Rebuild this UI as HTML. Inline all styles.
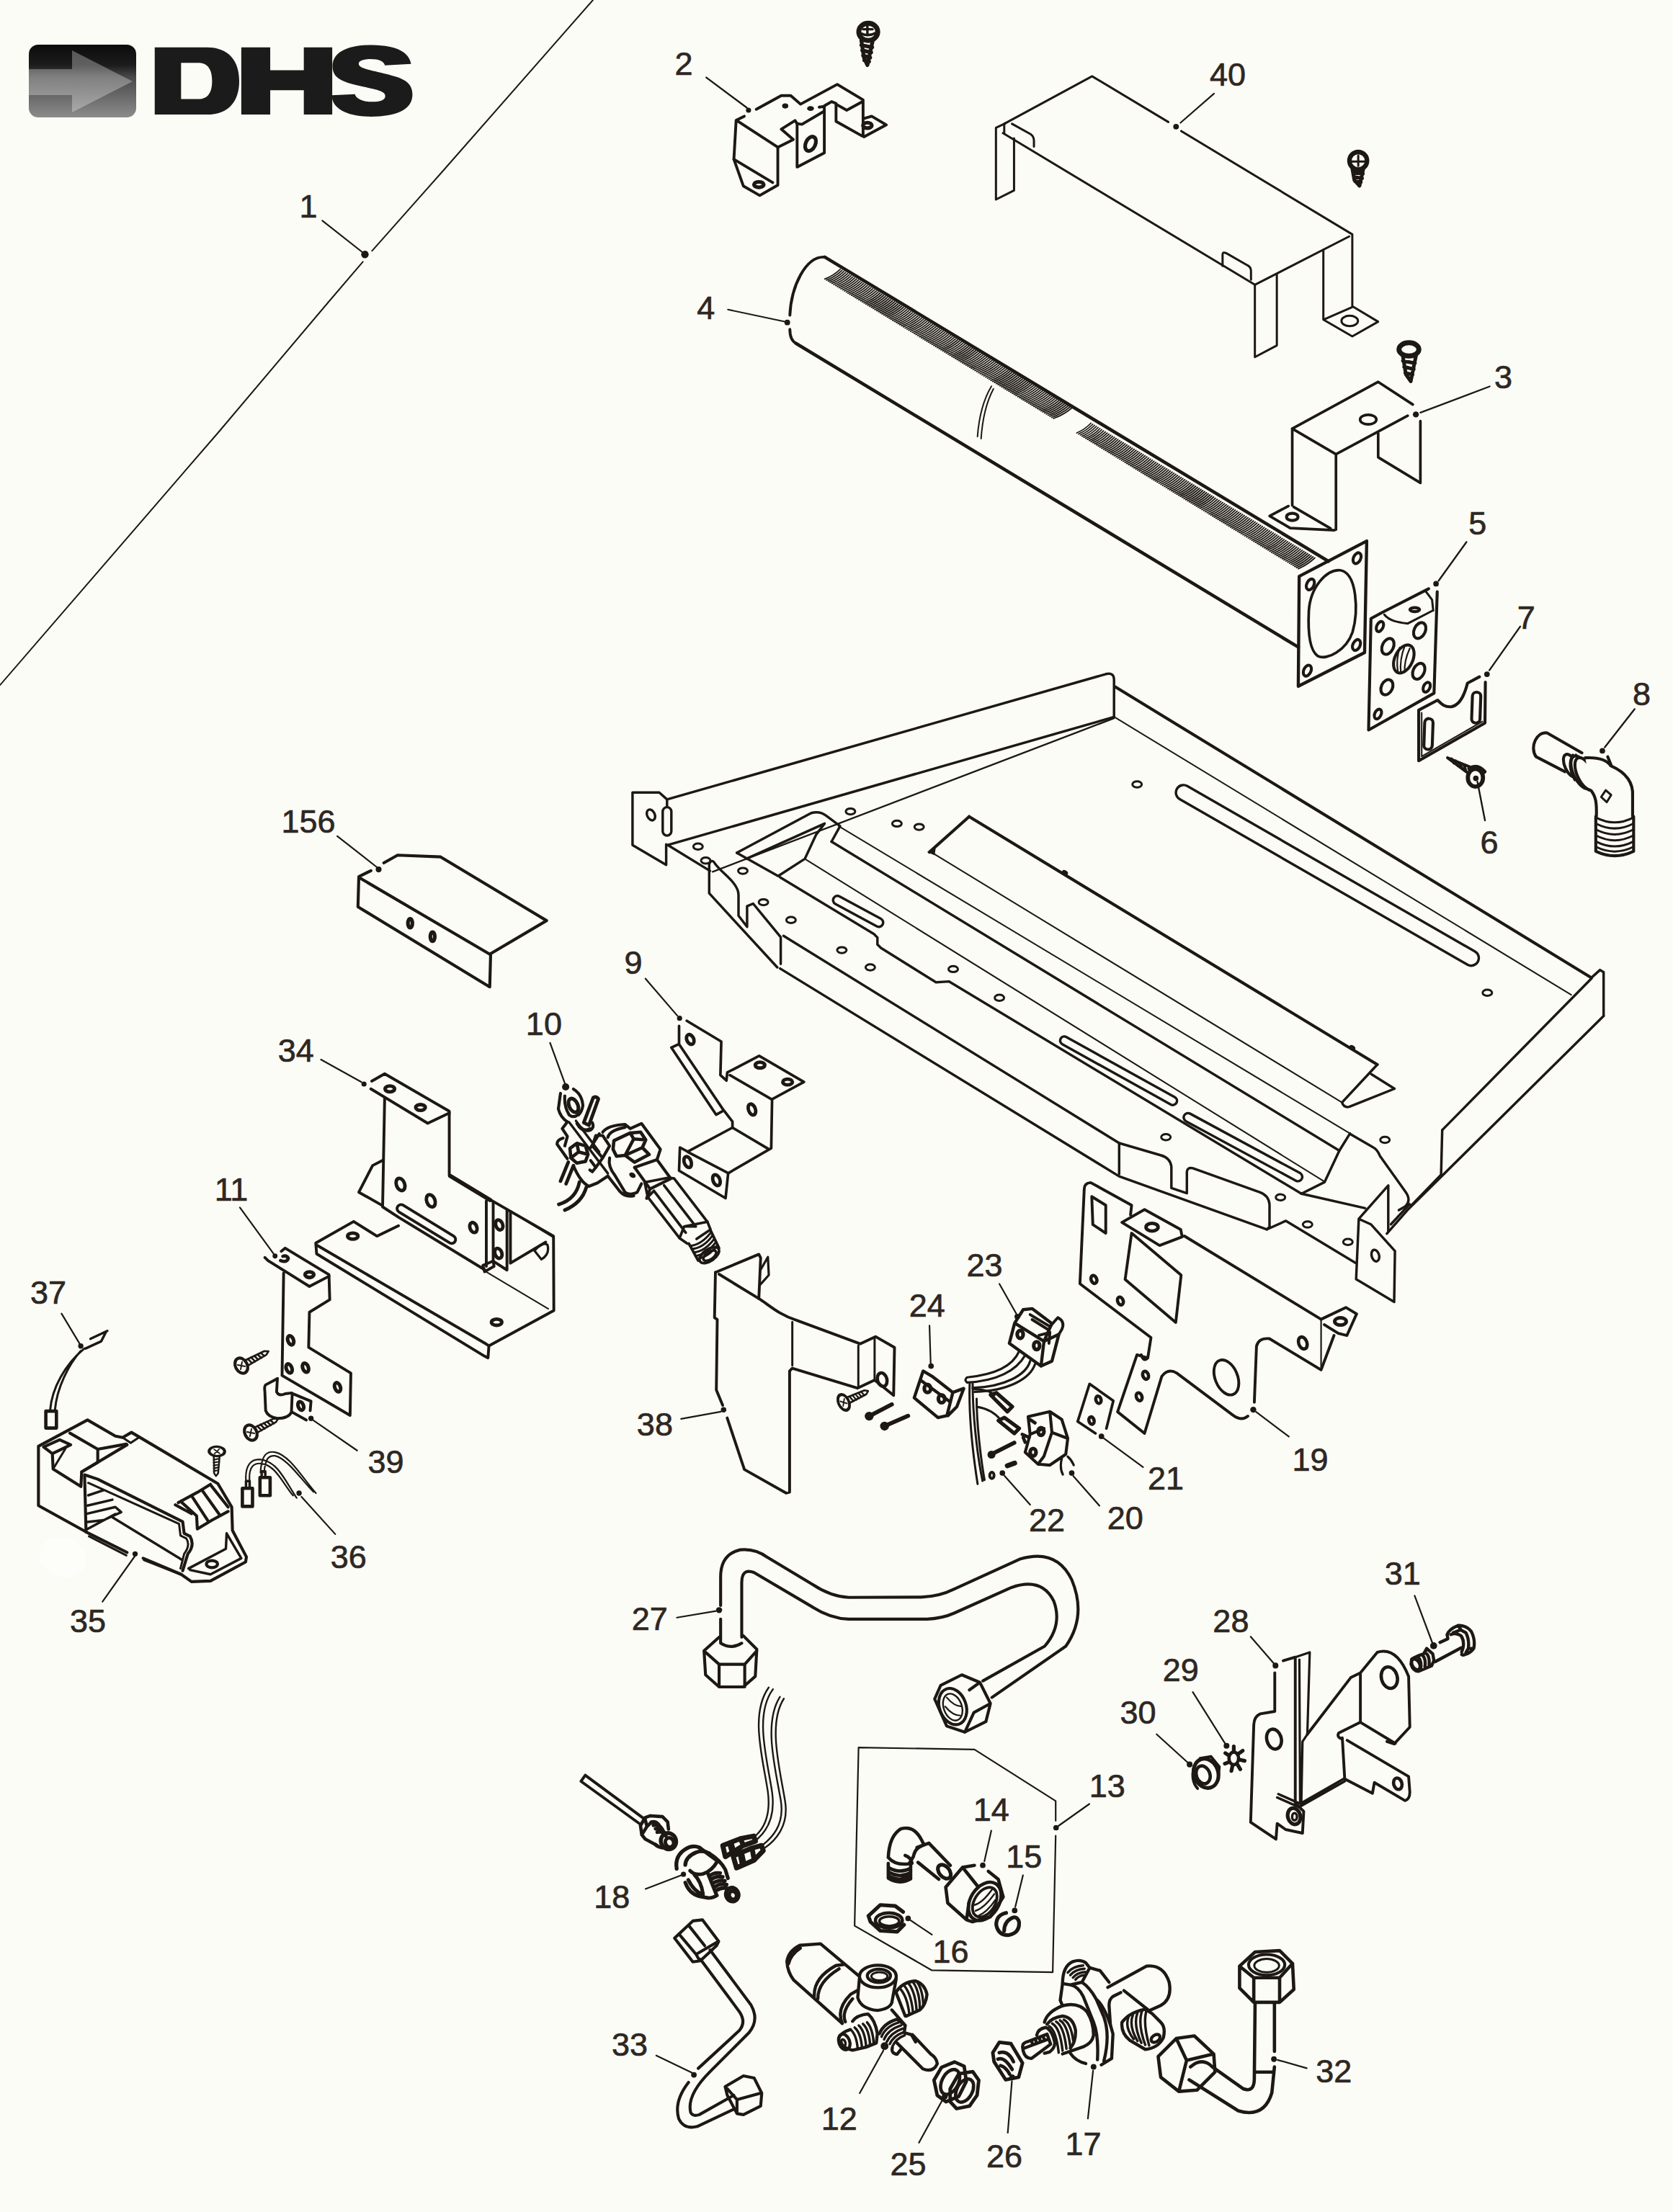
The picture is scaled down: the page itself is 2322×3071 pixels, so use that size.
<!DOCTYPE html>
<html><head><meta charset="utf-8">
<style>
html,body{margin:0;padding:0;background:#fcfcf6;}
body{width:2322px;height:3071px;overflow:hidden;font-family:"Liberation Sans",sans-serif;}
svg{display:block;position:absolute;left:0;top:0;}
.p *{vector-effect:non-scaling-stroke;}
.p{fill:none;stroke:#1d1814;stroke-width:3;stroke-linejoin:round;stroke-linecap:round;}
.t{fill:none;stroke:#1d1814;stroke-width:2.2;stroke-linecap:round;}
.t *{vector-effect:non-scaling-stroke;}
.f{fill:#1d1814;stroke:none;}
.w{fill:#fcfcf6;}
text{font-family:"Liberation Sans",sans-serif;font-size:45px;fill:#2e2722;stroke:#2e2722;stroke-width:0.7px;text-anchor:middle;}
</style></head><body>
<svg width="2322" height="3071" viewBox="0 0 2322 3071">
<defs>
<linearGradient id="lg" x1="0" y1="0" x2="0" y2="1"><stop offset="0" stop-color="#0c0c0c"/><stop offset="0.28" stop-color="#1c1c1c"/><stop offset="0.45" stop-color="#4a4a4a"/><stop offset="1" stop-color="#8c8c8c"/></linearGradient>
<linearGradient id="ag" x1="0" y1="0" x2="0" y2="1"><stop offset="0" stop-color="#5a5a5a"/><stop offset="0.5" stop-color="#8a8a8a"/><stop offset="1" stop-color="#a8a8a8"/></linearGradient>
<g id="scr" fill="none" stroke="#1d1814" stroke-linecap="round" stroke-linejoin="round"><ellipse cx="0" cy="0" rx="10" ry="13.5" stroke-width="5.2"/><path stroke-width="2.4" d="M-5,-4 L5,4 M-4,5 L4,-5"/><path stroke-width="3.2" d="M10,-5 L46,-3.5 L52,0 L46,3.5 L10,5 M15,-5 L18,5 M21,-5 L24,5 M27,-4.6 L30,4.6 M33,-4.3 L36,4.3 M39,-4 L42,4"/></g>
</defs>
<!--LOGO-->
<g id="logo">
<rect x="40" y="62" width="149" height="101" rx="13" fill="url(#lg)"/>
<path d="M40,96 H100 V70 L184,113 L100,156 V132 H40 Z" fill="#fff" fill-opacity="0.3"/>
<g transform="translate(20 40) scale(0.35864)" fill="#1b1b1b">
<path fill-rule="evenodd" d="M543,72 H745 C830,72 870,125 870,202 C870,280 830,332 745,332 H543 Z M645,132 V272 H712 C750,272 765,245 765,202 C765,160 750,132 712,132 Z"/>
<path d="M878,72 H990 V160 H1120 V72 H1230 V332 H1120 V238 H990 V332 H878 Z"/>

</g>
<path fill="#1b1b1b" transform="translate(440 50) scale(0.095637)" d="M1365,405 C1340,250 1180,135 800,130 C450,130 225,230 225,440 C225,620 380,670 620,725 C880,780 990,800 990,870 C990,930 920,955 800,955 C650,955 570,910 550,845 L215,860 C215,1060 450,1170 780,1170 C1150,1170 1385,1070 1385,850 C1385,640 1200,600 960,540 C700,480 605,460 605,400 C605,355 680,335 780,335 C900,335 970,370 985,425 Z"/>
</g>
<!-- p02.svg -->
<g class="p" style="stroke-width:3.91" transform="translate(960 0) scale(0.23909)">
<path d="M85,450 L320,625" style="stroke-width:2.4"/>
<circle class="f" cx="330" cy="640" r="15"/>
<ellipse class="f" cx="543" cy="615" rx="18" ry="15"/>
<ellipse class="f" cx="690" cy="630" rx="20" ry="14"/>
<path d="M375,635 L520,555 H575 L632,605 L845,490 L995,580 V785"/>
<path d="M305,675 L258,698 L245,925 L300,1080 L395,1135 L500,1075 V855 L262,700"/>
<path d="M245,925 L470,1060"/>
<ellipse cx="390" cy="1072" rx="28" ry="16" style="stroke-width:5.17"/>
<path d="M500,855 L590,810 L520,750 L600,700 L612,718 V970 L770,888 V618 L740,622"/>
<path d="M612,718 L640,722 L770,645"/>
<ellipse cx="690" cy="835" rx="28" ry="44" transform="rotate(25 690 835)" style="stroke-width:5.17"/>
<path d="M770,615 L812,590 L838,600 V705 L990,790"/>
<path d="M838,605 L900,640 L992,590"/>
<path d="M995,690 L1045,675 L1130,725 L1000,795"/>
<ellipse cx="1020" cy="728" rx="26" ry="16" style="stroke-width:5.17"/>
</g>
<g class="p" style="stroke-width:3.45" transform="translate(960 0) scale(0.23909)">
<ellipse cx="1025" cy="185" rx="55" ry="50" style="stroke-width:6.9"/>
<path d="M985,195 Q1025,215 1070,190 M1020,150 V200 M995,170 H1050" />
<path d="M985,235 L1000,335 L1020,378 L1050,240 M985,262 L1048,275 M990,292 L1042,305 M995,322 L1036,335 M1002,350 L1030,358" style="stroke-width:5.29"/>
</g>

<!-- p03.svg -->
<g class="p" style="stroke-width:3.68" transform="translate(1440 480) scale(0.41841)">
<!-- flange of tube -->
<path style="stroke-width:4.37" d="M868,765 L1092,648 L1085,1018 L865,1130 Z"/>
<path d="M900,880 C905,800 960,740 1005,745 C1060,755 1065,880 1045,950 C1025,1010 960,1045 930,1030 C900,1010 897,940 900,880 Z"/>
<ellipse cx="905" cy="792" rx="12" ry="19" transform="rotate(25 905 792)" style="stroke-width:4.14"/>
<ellipse cx="1060" cy="705" rx="12" ry="19" transform="rotate(25 1060 705)" style="stroke-width:4.14"/>
<ellipse cx="1058" cy="993" rx="12" ry="19" transform="rotate(25 1058 993)" style="stroke-width:4.14"/>
<ellipse cx="895" cy="1078" rx="12" ry="19" transform="rotate(25 895 1078)" style="stroke-width:4.14"/>
<!-- part 3 -->
<path d="M1245,195 L1130,120 L845,275 L990,360 L1228,232"/>
<path d="M1270,250 V455 L1130,370 V290"/>
<path d="M845,275 V530 M990,360 V610"/>
<path d="M832,532 L770,565 L838,605 L985,612 M850,535 L972,606"/>
<ellipse cx="845" cy="568" rx="19" ry="12" style="stroke-width:4.14"/>
<ellipse cx="1097" cy="245" rx="27" ry="16"/>
<circle class="f" cx="1255" cy="228" r="10"/>
<path style="stroke-width:2.2" d="M1270,222 L1500,135"/>
<!-- screw above 3 -->
<ellipse cx="1232" cy="12" rx="33" ry="22" style="stroke-width:6.9"/>
<path style="stroke-width:5.06" d="M1212,35 L1222,95 L1238,118 L1255,35 M1212,50 L1252,58 M1216,70 L1248,78 M1220,90 L1244,96"/>
</g>

<!-- p04.svg -->
<g class="p" style="stroke-width:4.6">
<path d="M1144.7,356.9 L1843.8,779.2"/>
<path d="M1105.2,477 L1801.9,898.4"/>
<path style="stroke-width:1.8" d="M1144.7,387.4Q1157.0,382.6 1166.2,373.8M1147.2,388.9Q1159.4,384.1 1168.7,375.3M1149.7,390.4Q1161.9,385.6 1171.2,376.8M1152.1,391.9Q1164.4,387.1 1173.7,378.3M1154.6,393.4Q1166.9,388.6 1176.2,379.8M1157.1,395.0Q1169.4,390.1 1178.7,381.3M1159.6,396.5Q1171.9,391.7 1181.2,382.8M1162.1,398.0Q1174.4,393.2 1183.8,384.3M1164.5,399.5Q1176.9,394.7 1186.3,385.9M1167.0,401.0Q1179.4,396.2 1188.8,387.4M1169.5,402.5Q1181.9,397.7 1191.3,388.9M1172.0,404.0Q1184.4,399.2 1193.8,390.4M1174.5,405.5Q1186.9,400.7 1196.3,391.9M1176.9,407.1Q1189.4,402.2 1198.8,393.4M1179.4,408.6Q1191.9,403.7 1201.3,394.9M1181.9,410.1Q1194.4,405.2 1203.8,396.4M1184.4,411.6Q1196.8,406.8 1206.3,397.9M1186.9,413.1Q1199.3,408.3 1208.8,399.4M1189.3,414.6Q1201.8,409.8 1211.3,400.9M1191.8,416.1Q1204.3,411.3 1213.8,402.4M1194.3,417.6Q1206.8,412.8 1216.4,403.9M1196.8,419.2Q1209.3,414.3 1218.9,405.4M1199.3,420.7Q1211.8,415.8 1221.4,407.0M1201.7,422.2Q1214.3,417.3 1223.9,408.5M1204.2,423.7Q1216.8,418.8 1226.4,410.0M1206.7,425.2Q1219.3,420.3 1228.9,411.5M1209.2,426.7Q1221.8,421.9 1231.4,413.0M1211.7,428.2Q1224.3,423.4 1233.9,414.5M1214.1,429.8Q1226.8,424.9 1236.4,416.0M1216.6,431.3Q1229.3,426.4 1238.9,417.5M1219.1,432.8Q1231.8,427.9 1241.4,419.0M1221.6,434.3Q1234.3,429.4 1243.9,420.5M1224.0,435.8Q1236.8,430.9 1246.5,422.0M1226.5,437.3Q1239.2,432.4 1249.0,423.5M1229.0,438.8Q1241.7,433.9 1251.5,425.0M1231.5,440.3Q1244.2,435.4 1254.0,426.5M1234.0,441.8Q1246.7,437.0 1256.5,428.1M1236.4,443.4Q1249.2,438.5 1259.0,429.6M1238.9,444.9Q1251.7,440.0 1261.5,431.1M1241.4,446.4Q1254.2,441.5 1264.0,432.6M1243.9,447.9Q1256.7,443.0 1266.5,434.1M1246.4,449.4Q1259.2,444.5 1269.0,435.6M1248.8,450.9Q1261.7,446.0 1271.5,437.1M1251.3,452.4Q1264.2,447.5 1274.0,438.6M1253.8,453.9Q1266.7,449.0 1276.5,440.1M1256.3,455.5Q1269.2,450.5 1279.1,441.6M1258.8,457.0Q1271.7,452.0 1281.6,443.1M1261.2,458.5Q1274.2,453.6 1284.1,444.6M1263.7,460.0Q1276.7,455.1 1286.6,446.1M1266.2,461.5Q1279.1,456.6 1289.1,447.6M1268.7,463.0Q1281.6,458.1 1291.6,449.2M1271.2,464.5Q1284.1,459.6 1294.1,450.7M1273.6,466.0Q1286.6,461.1 1296.6,452.2M1276.1,467.6Q1289.1,462.6 1299.1,453.7M1278.6,469.1Q1291.6,464.1 1301.6,455.2M1281.1,470.6Q1294.1,465.6 1304.1,456.7M1283.6,472.1Q1296.6,467.1 1306.6,458.2M1286.0,473.6Q1299.1,468.7 1309.1,459.7M1288.5,475.1Q1301.6,470.2 1311.7,461.2M1291.0,476.6Q1304.1,471.7 1314.2,462.7M1293.5,478.1Q1306.6,473.2 1316.7,464.2M1296.0,479.7Q1309.1,474.7 1319.2,465.7M1298.4,481.2Q1311.6,476.2 1321.7,467.2M1300.9,482.7Q1314.1,477.7 1324.2,468.7M1303.4,484.2Q1316.6,479.2 1326.7,470.2M1305.9,485.7Q1319.0,480.7 1329.2,471.8M1308.4,487.2Q1321.5,482.2 1331.7,473.3M1310.8,488.7Q1324.0,483.8 1334.2,474.8M1313.3,490.2Q1326.5,485.3 1336.7,476.3M1315.8,491.8Q1329.0,486.8 1339.2,477.8M1318.3,493.3Q1331.5,488.3 1341.7,479.3M1320.8,494.8Q1334.0,489.8 1344.3,480.8M1323.2,496.3Q1336.5,491.3 1346.8,482.3M1325.7,497.8Q1339.0,492.8 1349.3,483.8M1328.2,499.3Q1341.5,494.3 1351.8,485.3M1330.7,500.8Q1344.0,495.8 1354.3,486.8M1333.2,502.4Q1346.5,497.3 1356.8,488.3M1335.6,503.9Q1349.0,498.9 1359.3,489.8M1338.1,505.4Q1351.5,500.4 1361.8,491.3M1340.6,506.9Q1354.0,501.9 1364.3,492.9M1343.1,508.4Q1356.5,503.4 1366.8,494.4M1345.6,509.9Q1358.9,504.9 1369.3,495.9M1348.0,511.4Q1361.4,506.4 1371.8,497.4M1350.5,512.9Q1363.9,507.9 1374.3,498.9M1353.0,514.5Q1366.4,509.4 1376.9,500.4M1355.5,516.0Q1368.9,510.9 1379.4,501.9M1358.0,517.5Q1371.4,512.4 1381.9,503.4M1360.4,519.0Q1373.9,513.9 1384.4,504.9M1362.9,520.5Q1376.4,515.5 1386.9,506.4M1365.4,522.0Q1378.9,517.0 1389.4,507.9M1367.9,523.5Q1381.4,518.5 1391.9,509.4M1370.4,525.0Q1383.9,520.0 1394.4,510.9M1372.8,526.5Q1386.4,521.5 1396.9,512.4M1375.3,528.1Q1388.9,523.0 1399.4,514.0M1377.8,529.6Q1391.4,524.5 1401.9,515.5M1380.3,531.1Q1393.9,526.0 1404.4,517.0M1382.8,532.6Q1396.3,527.5 1407.0,518.5M1385.2,534.1Q1398.8,529.0 1409.5,520.0M1387.7,535.6Q1401.3,530.6 1412.0,521.5M1390.2,537.1Q1403.8,532.1 1414.5,523.0M1392.7,538.6Q1406.3,533.6 1417.0,524.5M1395.1,540.2Q1408.8,535.1 1419.5,526.0M1397.6,541.7Q1411.3,536.6 1422.0,527.5M1400.1,543.2Q1413.8,538.1 1424.5,529.0M1402.6,544.7Q1416.3,539.6 1427.0,530.5M1405.1,546.2Q1418.8,541.1 1429.5,532.0M1407.5,547.7Q1421.3,542.6 1432.0,533.5M1410.0,549.2Q1423.8,544.1 1434.5,535.1M1412.5,550.8Q1426.3,545.7 1437.0,536.6M1415.0,552.3Q1428.8,547.2 1439.6,538.1M1417.5,553.8Q1431.3,548.7 1442.1,539.6M1419.9,555.3Q1433.8,550.2 1444.6,541.1M1422.4,556.8Q1436.2,551.7 1447.1,542.6M1424.9,558.3Q1438.7,553.2 1449.6,544.1M1427.4,559.8Q1441.2,554.7 1452.1,545.6M1429.9,561.3Q1443.7,556.2 1454.6,547.1M1432.3,562.9Q1446.2,557.7 1457.1,548.6M1434.8,564.4Q1448.7,559.2 1459.6,550.1M1437.3,565.9Q1451.2,560.8 1462.1,551.6M1439.8,567.4Q1453.7,562.3 1464.6,553.1M1442.3,568.9Q1456.2,563.8 1467.1,554.6M1444.7,570.4Q1458.7,565.3 1469.6,556.2M1447.2,571.9Q1461.2,566.8 1472.2,557.7M1449.7,573.4Q1463.7,568.3 1474.7,559.2M1452.2,575.0Q1466.2,569.8 1477.2,560.7M1454.7,576.5Q1468.7,571.3 1479.7,562.2M1457.1,578.0Q1471.2,572.8 1482.2,563.7M1459.6,579.5Q1473.7,574.3 1484.7,565.2M1462.1,581.0Q1476.2,575.9 1487.2,566.7"/>
<path style="stroke-width:1.8" d="M1494.4,601.0Q1505.8,596.2 1514.1,587.5M1496.9,602.5Q1508.2,597.8 1516.6,589.0M1499.4,604.0Q1510.7,599.3 1519.1,590.5M1501.8,605.6Q1513.2,600.8 1521.6,592.0M1504.3,607.1Q1515.7,602.3 1524.1,593.5M1506.8,608.6Q1518.2,603.8 1526.6,595.0M1509.3,610.1Q1520.7,605.3 1529.1,596.5M1511.8,611.6Q1523.2,606.9 1531.6,598.1M1514.2,613.2Q1525.7,608.4 1534.2,599.6M1516.7,614.7Q1528.2,609.9 1536.7,601.1M1519.2,616.2Q1530.7,611.4 1539.2,602.6M1521.7,617.7Q1533.2,612.9 1541.7,604.1M1524.2,619.3Q1535.7,614.4 1544.2,605.6M1526.6,620.8Q1538.2,615.9 1546.7,607.1M1529.1,622.3Q1540.7,617.5 1549.2,608.6M1531.6,623.8Q1543.1,619.0 1551.7,610.1M1534.1,625.3Q1545.6,620.5 1554.2,611.6M1536.6,626.9Q1548.1,622.0 1556.7,613.1M1539.0,628.4Q1550.6,623.5 1559.2,614.6M1541.5,629.9Q1553.1,625.0 1561.7,616.2M1544.0,631.4Q1555.6,626.5 1564.2,617.7M1546.5,632.9Q1558.1,628.1 1566.7,619.2M1549.0,634.5Q1560.6,629.6 1569.2,620.7M1551.4,636.0Q1563.1,631.1 1571.7,622.2M1553.9,637.5Q1565.6,632.6 1574.3,623.7M1556.4,639.0Q1568.1,634.1 1576.8,625.2M1558.9,640.5Q1570.6,635.6 1579.3,626.7M1561.4,642.1Q1573.1,637.1 1581.8,628.2M1563.8,643.6Q1575.6,638.7 1584.3,629.7M1566.3,645.1Q1578.1,640.2 1586.8,631.2M1568.8,646.6Q1580.5,641.7 1589.3,632.7M1571.3,648.1Q1583.0,643.2 1591.8,634.2M1573.8,649.7Q1585.5,644.7 1594.3,635.8M1576.2,651.2Q1588.0,646.2 1596.8,637.3M1578.7,652.7Q1590.5,647.7 1599.3,638.8M1581.2,654.2Q1593.0,649.3 1601.8,640.3M1583.7,655.8Q1595.5,650.8 1604.3,641.8M1586.2,657.3Q1598.0,652.3 1606.8,643.3M1588.6,658.8Q1600.5,653.8 1609.3,644.8M1591.1,660.3Q1603.0,655.3 1611.9,646.3M1593.6,661.8Q1605.5,656.8 1614.4,647.8M1596.1,663.4Q1608.0,658.3 1616.9,649.3M1598.6,664.9Q1610.5,659.9 1619.4,650.8M1601.0,666.4Q1613.0,661.4 1621.9,652.3M1603.5,667.9Q1615.4,662.9 1624.4,653.9M1606.0,669.4Q1617.9,664.4 1626.9,655.4M1608.5,671.0Q1620.4,665.9 1629.4,656.9M1611.0,672.5Q1622.9,667.4 1631.9,658.4M1613.4,674.0Q1625.4,668.9 1634.4,659.9M1615.9,675.5Q1627.9,670.5 1636.9,661.4M1618.4,677.0Q1630.4,672.0 1639.4,662.9M1620.9,678.6Q1632.9,673.5 1641.9,664.4M1623.4,680.1Q1635.4,675.0 1644.4,665.9M1625.8,681.6Q1637.9,676.5 1646.9,667.4M1628.3,683.1Q1640.4,678.0 1649.4,668.9M1630.8,684.7Q1642.9,679.5 1652.0,670.4M1633.3,686.2Q1645.4,681.1 1654.5,672.0M1635.8,687.7Q1647.9,682.6 1657.0,673.5M1638.2,689.2Q1650.4,684.1 1659.5,675.0M1640.7,690.7Q1652.8,685.6 1662.0,676.5M1643.2,692.3Q1655.3,687.1 1664.5,678.0M1645.7,693.8Q1657.8,688.6 1667.0,679.5M1648.2,695.3Q1660.3,690.1 1669.5,681.0M1650.6,696.8Q1662.8,691.7 1672.0,682.5M1653.1,698.3Q1665.3,693.2 1674.5,684.0M1655.6,699.9Q1667.8,694.7 1677.0,685.5M1658.1,701.4Q1670.3,696.2 1679.5,687.0M1660.5,702.9Q1672.8,697.7 1682.0,688.5M1663.0,704.4Q1675.3,699.2 1684.5,690.0M1665.5,705.9Q1677.8,700.8 1687.0,691.6M1668.0,707.5Q1680.3,702.3 1689.6,693.1M1670.5,709.0Q1682.8,703.8 1692.1,694.6M1672.9,710.5Q1685.3,705.3 1694.6,696.1M1675.4,712.0Q1687.7,706.8 1697.1,697.6M1677.9,713.6Q1690.2,708.3 1699.6,699.1M1680.4,715.1Q1692.7,709.8 1702.1,700.6M1682.9,716.6Q1695.2,711.4 1704.6,702.1M1685.3,718.1Q1697.7,712.9 1707.1,703.6M1687.8,719.6Q1700.2,714.4 1709.6,705.1M1690.3,721.2Q1702.7,715.9 1712.1,706.6M1692.8,722.7Q1705.2,717.4 1714.6,708.1M1695.3,724.2Q1707.7,718.9 1717.1,709.7M1697.7,725.7Q1710.2,720.4 1719.6,711.2M1700.2,727.2Q1712.7,722.0 1722.1,712.7M1702.7,728.8Q1715.2,723.5 1724.6,714.2M1705.2,730.3Q1717.7,725.0 1727.1,715.7M1707.7,731.8Q1720.2,726.5 1729.7,717.2M1710.1,733.3Q1722.7,728.0 1732.2,718.7M1712.6,734.8Q1725.1,729.5 1734.7,720.2M1715.1,736.4Q1727.6,731.0 1737.2,721.7M1717.6,737.9Q1730.1,732.6 1739.7,723.2M1720.1,739.4Q1732.6,734.1 1742.2,724.7M1722.5,740.9Q1735.1,735.6 1744.7,726.2M1725.0,742.5Q1737.6,737.1 1747.2,727.8M1727.5,744.0Q1740.1,738.6 1749.7,729.3M1730.0,745.5Q1742.6,740.1 1752.2,730.8M1732.5,747.0Q1745.1,741.6 1754.7,732.3M1734.9,748.5Q1747.6,743.2 1757.2,733.8M1737.4,750.1Q1750.1,744.7 1759.7,735.3M1739.9,751.6Q1752.6,746.2 1762.2,736.8M1742.4,753.1Q1755.1,747.7 1764.7,738.3M1744.9,754.6Q1757.6,749.2 1767.3,739.8M1747.3,756.1Q1760.1,750.7 1769.8,741.3M1749.8,757.7Q1762.5,752.2 1772.3,742.8M1752.3,759.2Q1765.0,753.8 1774.8,744.3M1754.8,760.7Q1767.5,755.3 1777.3,745.8M1757.3,762.2Q1770.0,756.8 1779.8,747.4M1759.7,763.7Q1772.5,758.3 1782.3,748.9M1762.2,765.3Q1775.0,759.8 1784.8,750.4M1764.7,766.8Q1777.5,761.3 1787.3,751.9M1767.2,768.3Q1780.0,762.8 1789.8,753.4M1769.7,769.8Q1782.5,764.4 1792.3,754.9M1772.1,771.3Q1785.0,765.9 1794.8,756.4M1774.6,772.9Q1787.5,767.4 1797.3,757.9M1777.1,774.4Q1790.0,768.9 1799.8,759.4M1779.6,775.9Q1792.5,770.4 1802.3,760.9M1782.1,777.4Q1795.0,771.9 1804.8,762.4M1784.5,779.0Q1797.4,773.4 1807.4,763.9M1787.0,780.5Q1799.9,775.0 1809.9,765.5M1789.5,782.0Q1802.4,776.5 1812.4,767.0M1792.0,783.5Q1804.9,778.0 1814.9,768.5M1794.5,785.0Q1807.4,779.5 1817.4,770.0M1796.9,786.6Q1809.9,781.0 1819.9,771.5M1799.4,788.1Q1812.4,782.5 1822.4,773.0M1801.9,789.6Q1814.9,784.0 1824.9,774.5"/>
</g>
<g class="p" style="stroke-width:3.91" transform="translate(960 330) scale(0.35864)">
<path d="M515,75 C440,70 385,190 380,300"/>
<path d="M380,355 C380,390 395,405 405,410"/>
<circle class="f" cx="370" cy="328" r="11"/>
<path style="stroke-width:2" d="M140,278 L360,325"/>
<path style="stroke-width:2" d="M1160,575 Q1115,650 1106,770 M1168,585 Q1128,660 1120,778"/>
</g>

<!-- p05.svg -->
<g class="p" style="stroke-width:4.14" transform="translate(1860 700) scale(0.27615)">
<!-- part 5 -->
<path d="M445,425 L210,545 L155,575 L143,1135 L472,950 L488,440"/>
<path style="stroke-width:2.99" d="M222,555 C250,590 300,595 340,600 L465,535 M430,438 L462,480 L468,535"/>
<ellipse cx="375" cy="530" rx="24" ry="10"/>
<ellipse cx="200" cy="615" rx="16" ry="27" transform="rotate(25 200 615)"/>
<ellipse cx="400" cy="635" rx="28" ry="42" transform="rotate(25 400 635)"/>
<ellipse cx="240" cy="715" rx="28" ry="42" transform="rotate(25 240 715)"/>
<ellipse cx="395" cy="840" rx="28" ry="42" transform="rotate(25 395 840)"/>
<ellipse cx="235" cy="920" rx="28" ry="40" transform="rotate(25 235 920)"/>
<ellipse cx="435" cy="920" rx="16" ry="26" transform="rotate(25 435 920)"/>
<ellipse cx="190" cy="1055" rx="16" ry="26" transform="rotate(25 190 1055)"/>
<ellipse cx="320" cy="778" rx="45" ry="75" transform="rotate(25 320 778)"/>
<path style="stroke-width:2.2" d="M300,720 Q280,780 290,840 M325,712 Q298,780 305,850 M350,725 Q320,790 325,845"/>
<circle class="f" cx="482" cy="400" r="14"/>
<path style="stroke-width:2.4" d="M495,385 L635,190"/>
<!-- part 7 -->
<path d="M700,868 L640,900 C625,960 600,1010 560,1018 C525,1022 510,1005 490,985 L395,1035 V1290 L728,1100 L730,895"/>
<path style="stroke-width:2" d="M410,1048 V1268 L715,1092"/>
<rect x="423" y="1078" width="42" height="155" rx="20" transform="rotate(2 445 1155)"/>
<rect x="663" y="945" width="42" height="155" rx="20" transform="rotate(2 685 1020)"/>
<circle class="f" cx="738" cy="855" r="14"/>
<path style="stroke-width:2.4" d="M750,835 L905,615"/>
<!-- screw 6 -->
<path style="stroke-width:3.91" d="M540,1275 L640,1350 M540,1275 L655,1322 M560,1280 L572,1302 M580,1290 L592,1315 M602,1300 L612,1328 M622,1310 L632,1340"/>
<ellipse cx="680" cy="1375" rx="38" ry="45" style="stroke-width:5.75"/>
<path d="M650,1330 Q690,1305 725,1345" style="stroke-width:5.75"/>
<circle class="f" cx="682" cy="1378" r="14"/>
<path style="stroke-width:2.4" d="M690,1395 L728,1590"/>
<!-- part 8 -->
<path class="w" d="M1215,1250 L1040,1150 C990,1140 950,1220 985,1270 L1130,1345"/>
<ellipse class="w" cx="1160" cy="1315" rx="30" ry="62" transform="rotate(-25 1160 1315)"/>
<path d="M1170,1262 Q1140,1310 1180,1385 M1185,1262 Q1155,1312 1195,1380"/>
<ellipse class="w" cx="1212" cy="1348" rx="40" ry="88" transform="rotate(-25 1212 1348)"/>
<ellipse class="w" cx="1232" cy="1356" rx="40" ry="88" transform="rotate(-25 1232 1356)"/>
<path class="w" style="stroke:none" d="M1232,1275 Q1330,1270 1360,1315 C1440,1350 1475,1400 1470,1470 V1570 H1288 C1290,1500 1285,1470 1262,1440 Z"/>
<path d="M1232,1275 Q1330,1270 1360,1315 C1440,1350 1475,1400 1470,1470 V1570"/>
<path d="M1262,1440 C1285,1470 1290,1500 1288,1570"/>
<path d="M1345,1270 L1362,1312"/>
<path d="M1335,1438 L1362,1462 L1340,1498 L1312,1472 Z" style="stroke-width:2.99"/>
<path d="M1285,1570 V1745 Q1380,1790 1475,1745 V1570"/>
<path style="stroke-width:2.99" d="M1285,1575 Q1380,1625 1475,1575 M1285,1605 Q1380,1655 1475,1605 M1285,1635 Q1380,1685 1475,1635 M1285,1665 Q1380,1715 1475,1665 M1285,1695 Q1380,1745 1475,1695 M1285,1722 Q1380,1770 1475,1722"/>
<circle class="f" cx="1318" cy="1240" r="14"/>
<path style="stroke-width:2.4" d="M1330,1222 L1480,1030"/>
</g>

<!-- p09.svg -->
<g class="p" style="stroke-width:3.68" transform="translate(860 1330) scale(0.23909)">
<path style="stroke-width:2.2" d="M150,120 L335,335"/>
<circle class="f" cx="348" cy="350" r="15"/>
<path d="M345,395 V500 L300,520 L560,910 L605,885 L655,950 V985 M348,505 L602,882"/>
<path d="M390,365 L590,485 L585,680 L620,712 L625,665 L810,568 L1070,720 L885,820 L880,1105 L630,1250 L615,1395 L345,1235 L350,1100 L395,1125 L655,985"/>
<path d="M640,680 L878,818 M655,985 L862,1108 M398,1128 L632,1250"/>
<ellipse cx="410" cy="473" rx="20" ry="30" transform="rotate(-25 410 473)" style="stroke-width:4.83"/>
<ellipse cx="815" cy="622" rx="28" ry="17" style="stroke-width:4.83"/>
<ellipse cx="975" cy="720" rx="28" ry="17" style="stroke-width:4.83"/>
<ellipse cx="768" cy="880" rx="20" ry="33" transform="rotate(-20 768 880)" style="stroke-width:4.83"/>
<ellipse cx="395" cy="1185" rx="20" ry="33" transform="rotate(-20 395 1185)" style="stroke-width:4.83"/>
<ellipse cx="562" cy="1290" rx="20" ry="33" transform="rotate(-20 562 1290)" style="stroke-width:4.83"/>
</g>

<!-- p10.svg -->
<g class="p" style="stroke-width:3.68" transform="translate(700 1380) scale(0.21518)">
<path style="stroke-width:2.2" d="M295,315 L395,590"/>
<!-- hex body -->
<path d="M1060,1185 L1095,1190 L1310,1470 L1330,1520 L1240,1580 M905,1215 L1060,1185 M905,1215 L925,1310 L1130,1575 L1180,1610"/>
<path d="M965,1270 L1170,1540 M1030,1235 L1235,1500 M925,1310 L965,1270 M1130,1575 L1160,1500 L1310,1470 M1160,1500 L1235,1500"/>
<!-- thread -->
<path d="M1190,1610 L1250,1720 M1330,1525 L1385,1640"/>
<ellipse cx="1322" cy="1685" rx="72" ry="38" transform="rotate(-35 1322 1685)"/>
<ellipse cx="1325" cy="1688" rx="48" ry="24" transform="rotate(-35 1325 1688)"/>
<path style="stroke-width:2.99" d="M1195,1625 Q1270,1620 1335,1535 M1208,1645 Q1285,1640 1345,1555 M1220,1668 Q1295,1660 1355,1578 M1232,1690 Q1305,1680 1365,1600 M1243,1708 Q1315,1700 1375,1620"/>
</g>
<g class="p" style="stroke-width:4.14" transform="translate(760 1500) scale(0.11955)">
<circle class="f" cx="210" cy="75" r="42"/>
<path d="M150,150 L125,330 Q150,430 230,480 M200,180 Q190,300 250,400 Q300,440 350,400 M300,100 Q400,160 410,290 Q400,360 360,400"/>
<ellipse cx="300" cy="290" rx="50" ry="85" transform="rotate(-25 300 290)" style="stroke-width:5.06"/>
<path d="M530,200 Q565,180 590,215 L480,520 L420,490 Z" style="stroke-width:4.83"/>
<path d="M340,500 Q400,610 500,575 Q545,540 520,490 M385,545 Q430,595 490,560"/>
<path d="M230,480 L170,560 L230,650 L200,760 M180,670 Q110,690 110,740 L230,910"/>
<path d="M250,485 L700,1080 M330,470 L600,830" style="stroke-width:3.45"/>
<path d="M260,790 L340,730 L440,760 L470,860 L440,940 L340,960 L270,900 Z M340,730 L360,830 L270,900 M360,830 L470,860" style="stroke-width:4.6"/>
<path d="M240,950 L150,1170 M300,990 L215,1200" style="stroke-width:4.83"/>
<path d="M300,990 Q380,1180 480,1230 L580,1190 L700,1110 M500,930 L560,1010 L520,1060 L490,1040"/>
<path d="M370,1180 Q330,1380 130,1440 M450,1240 Q400,1420 200,1506" style="stroke-width:4.83"/>
<path d="M560,640 L520,760 L640,900 L720,760 L640,640 Z M600,620 L500,780 M640,900 L560,1010"/>
<path d="M640,600 Q700,520 900,510 L960,560 L1090,500 L1310,800 L1270,920 L1010,1010 M700,660 Q720,580 900,545"/>
<path d="M770,700 L960,610 L1080,600 L1140,690 L1100,780 L900,870 L800,880 L760,800 Z M960,610 L1000,680 L900,870 M1000,680 L1140,690 M1100,780 L1180,860 L1010,950 L900,870" style="stroke-width:4.6"/>
<path d="M720,900 Q700,1000 780,1100 L900,1300 Q960,1340 1040,1300 L1090,1200 M700,1110 L840,1290 Q900,1360 1000,1340"/>
<path d="M1010,1010 L1190,1260 M1270,920 L1430,1140 L1190,1260 L1150,1370"/>
<ellipse class="f" cx="985" cy="1100" rx="40" ry="28" transform="rotate(30 985 1100)"/>
</g>

<!-- p11.svg -->
<g class="p" style="stroke-width:3.91" transform="translate(270 1620) scale(0.21695)">
<path style="stroke-width:2.2" d="M290,260 L505,555"/>
<circle class="f" cx="515" cy="570" r="16"/>
<path d="M555,540 L580,520 L860,690 L865,850 L735,930 L730,1155 L1000,1320 L995,1590 L560,1335 L570,680"/>
<path d="M450,580 L470,600 L735,765 L860,700"/>
<path d="M550,600 Q590,615 600,585 Q590,565 565,572" style="stroke-width:4.6"/>
<ellipse cx="735" cy="690" rx="28" ry="18" style="stroke-width:5.06"/>
<ellipse cx="615" cy="1110" rx="18" ry="30" transform="rotate(-20 615 1110)" style="stroke-width:5.06"/>
<ellipse cx="605" cy="1290" rx="18" ry="30" transform="rotate(-20 605 1290)" style="stroke-width:5.06"/>
<ellipse cx="710" cy="1285" rx="18" ry="30" transform="rotate(-20 710 1285)" style="stroke-width:5.06"/>
<ellipse cx="915" cy="1410" rx="18" ry="30" transform="rotate(-20 915 1410)" style="stroke-width:5.06"/>
<!-- 39 clip -->
<path d="M530,1355 L455,1395 Q445,1405 450,1440 L455,1560 Q470,1600 530,1610 Q600,1610 620,1570 L625,1450 L745,1500 L740,1560"/>
<path d="M530,1355 L525,1440 Q540,1470 580,1452 L622,1447 M625,1570 L715,1620"/>
<ellipse cx="680" cy="1530" rx="17" ry="28" transform="rotate(-20 680 1530)" style="stroke-width:5.06"/>
<circle class="f" cx="745" cy="1610" r="17"/>
<path style="stroke-width:2.2" d="M760,1622 L1040,1815"/>
</g>
<use href="#scr" transform="translate(335 1896) rotate(-28) scale(0.82)"/>
<use href="#scr" transform="translate(348 1989) rotate(-27) scale(0.82)"/>
<use href="#scr" transform="translate(301 2015) rotate(92) scale(0.66 0.8)"/>

<!-- p13.svg -->
<g class="p" style="stroke-width:3.91" transform="translate(1160 2400) scale(0.27496)">
<path style="stroke-width:2.2" d="M1110,465 V365 L700,105 L115,95 L95,995 L485,1220 L1095,1230 L1110,540"/>
<circle class="f" cx="1112" cy="500" r="14"/>
<path style="stroke-width:2.2" d="M1125,490 L1280,380"/>
<!-- elbow -->
<path d="M265,650 Q270,540 330,505 Q395,488 432,560 L445,585 M265,650 Q300,692 370,682 L392,645 Q400,605 432,592" style="stroke-width:4.6"/>
<path d="M410,600 L470,578 L578,690 M415,675 L520,760" style="stroke-width:4.6"/>
<ellipse cx="548" cy="722" rx="26" ry="40" transform="rotate(-40 548 722)" style="stroke-width:5.17"/>
<path d="M265,680 V755 Q320,790 378,758 V690 M265,700 Q320,735 378,705 M265,722 Q320,757 378,727 M265,742 Q320,775 378,745 M350,640 Q380,650 385,680" style="stroke-width:4.6"/>
<!-- nut 14 -->
<path d="M700,690 L640,700 L555,800 L565,880 L660,965 L690,975 L780,950 L845,850 L820,760 L770,720 M640,700 L720,800 M660,965 L672,880" style="stroke-width:4.6"/>
<ellipse cx="752" cy="872" rx="72" ry="105" transform="rotate(32 752 872)" style="stroke-width:4.6"/>
<ellipse cx="752" cy="876" rx="52" ry="82" transform="rotate(32 752 876)"/>
<path d="M700,890 Q740,880 790,810 M705,920 Q750,905 800,835 M720,945 Q765,925 805,865" style="stroke-width:2.4"/>
<circle class="f" cx="742" cy="690" r="14"/>
<path style="stroke-width:2.2" d="M750,670 L785,515"/>
<!-- 15 -->
<path d="M860,930 Q810,940 810,990 Q820,1045 875,1042 Q930,1030 925,975 Q915,945 890,955 Q850,975 850,1020" style="stroke-width:5.17"/>
<circle class="f" cx="903" cy="918" r="14"/>
<path style="stroke-width:2.2" d="M906,900 L945,740"/>
<!-- 16 -->
<path d="M165,945 L225,890 L300,895 L340,925 M345,990 L310,1025 L225,1020 L175,975 L165,945" style="stroke-width:5.17"/>
<ellipse cx="268" cy="968" rx="68" ry="38" style="stroke-width:4.6"/>
<ellipse cx="270" cy="972" rx="50" ry="24" style="stroke-width:3.45"/>
<circle class="f" cx="365" cy="958" r="14"/>
<path style="stroke-width:2.2" d="M378,968 L485,1040"/>
</g>

<!-- p156.svg -->
<g class="p" style="stroke-width:4.14" transform="translate(400 1100) scale(0.23909)">
<path d="M555,410 L635,365 L885,375 L1500,745 L1170,940 L420,500"/>
<path d="M480,455 L410,490 L405,665 L1170,1130 L1175,945"/>
<ellipse cx="708" cy="760" rx="13" ry="26" style="stroke-width:5.17"/>
<ellipse cx="838" cy="838" rx="13" ry="26" style="stroke-width:5.17"/>
<circle class="f" cx="525" cy="448" r="17"/>
<path style="stroke-width:2.2" d="M285,255 L515,435"/>
</g>

<!-- p17.svg -->
<g class="p" style="stroke-width:4.14" transform="translate(1360 2640) scale(0.35864)">
<!-- 26 -->
<path d="M50,585 L75,545 L120,550 L165,625 L150,680 L100,690 L55,620 Z M75,585 Q110,575 130,620 M70,610 Q95,600 125,650 M80,635 Q100,640 115,668" style="stroke-width:4.83"/>
<circle class="f" cx="125" cy="680" r="11"/>
<path style="stroke-width:2.2" d="M124,695 L108,895"/>
<!-- 17 moved -->
<path style="stroke-width:2.2" d="M438,655 L418,840"/>
<!-- 32 -->
<path d="M690,600 L760,530 L830,520 L905,590 L910,660 L840,730 L770,735 L700,680 Z M760,530 L800,615 L770,735 M800,615 L905,590" style="stroke-width:4.6"/>
<path d="M815,640 Q860,600 900,640 L1020,725 Q1060,740 1062,690 L1065,395 M810,690 L1000,810 Q1100,840 1130,740 L1140,640 M1140,580 V395 M1065,660 H1138" style="stroke-width:4.6"/>
<path d="M1005,250 L1065,195 L1160,190 L1210,240 L1215,340 L1160,390 H1060 L1005,335 Z M1005,250 L1060,295 H1160 L1210,240 M1060,295 V390 M1160,295 V390" style="stroke-width:4.6"/>
<ellipse cx="1110" cy="245" rx="70" ry="40"/>
<ellipse cx="1110" cy="248" rx="48" ry="26" style="stroke-width:2.99"/>
<circle class="f" cx="1138" cy="610" r="11"/>
<path style="stroke-width:2.2" d="M1152,613 L1265,645"/>
</g>
<g class="p" style="stroke-width:4.37" transform="translate(1360 2700) scale(0.17932)">
<path d="M640,300 Q640,165 720,130 Q780,110 820,140 L850,178 L930,200 L1000,290 M640,300 L622,430 L640,472"/>
<path d="M680,215 Q720,165 800,160 M700,235 Q735,190 810,185 M720,255 Q750,215 815,210 M740,270 Q765,240 805,235" style="stroke-width:3.45"/>
<path d="M700,310 Q760,320 800,400 L880,600 Q920,700 910,890 M790,290 Q850,330 900,420 L960,560 Q1010,700 960,900 M900,420 Q960,470 1010,620 L1030,690 L1020,880 L940,930 M640,300 L700,310 L790,290 L850,178"/>
<path d="M500,600 Q520,520 640,472 Q760,440 830,520 Q880,600 880,700 Q870,760 800,790 L640,845 M520,615 Q560,562 640,552 Q720,560 740,660 Q745,750 700,800"/>
<path d="M560,610 Q620,640 640,820 M590,595 Q650,630 670,805 M620,585 Q680,620 700,790 M650,580 Q705,610 722,740 M535,630 Q590,660 610,835" style="stroke-width:3.45"/>
<path d="M440,700 Q450,650 510,640 Q560,660 580,760 Q580,800 540,830 L500,840 M700,840 Q740,900 820,920"/>
<path d="M330,790 Q330,760 370,750 L520,692 L548,770 L400,880 Q350,882 335,822 Z M400,745 L410,775 M430,735 L440,765 M460,722 L470,752 M490,710 L500,740 M345,800 L410,775 L520,735"/>
<path d="M990,330 L1290,165 Q1420,150 1465,290 Q1490,420 1400,470 L1310,510 M1115,355 L1310,510 M1090,370 L1030,400 Q1000,420 1000,470 L1010,620"/>
<path d="M1100,600 Q1160,520 1280,500 L1330,530 L1400,600 Q1440,640 1420,720 Q1380,800 1280,810 L1160,740 Q1090,680 1100,600"/>
<path d="M1150,560 Q1120,640 1190,730 M1185,540 Q1150,630 1220,745 M1220,525 Q1185,620 1250,760 M1255,512 Q1220,610 1280,775 M1290,508 Q1260,600 1310,780" style="stroke-width:3.45"/>
<ellipse cx="1360" cy="725" rx="38" ry="26" transform="rotate(-35 1360 725)"/>
<circle class="f" cx="880" cy="945" r="22"/>
</g>

<!-- p18.svg -->
<g class="p" style="stroke-width:3.91" transform="translate(780 2320) scale(0.23909)">
<path style="stroke-width:2.2" d="M485,1265 L695,1185"/>
<circle class="f" cx="705" cy="1180" r="15"/>
<!-- rod + fitting -->
<path d="M135,605 L480,860 M110,640 L455,890 M135,605 L110,640"/>
<!-- wires -->
<path style="stroke-width:2.4" d="M1200,95 C1090,250 1165,500 1195,700 C1215,850 1160,925 1120,960 M1225,105 C1115,255 1190,505 1220,705 C1240,855 1180,935 1135,975 M1265,150 C1170,300 1235,550 1270,750 C1295,900 1210,975 1165,1010 M1288,160 C1195,305 1262,555 1295,755 C1320,905 1230,990 1180,1025"/>
</g>
<g class="p" style="stroke-width:4.6" transform="translate(880 2500) scale(0.11955)">
<path d="M130,195 L190,175 L330,185 L390,245 L400,330 M75,290 L125,200 M75,290 L90,395 L130,445 L250,510 M125,200 L150,300 L90,395 M150,300 L200,250"/>
<path d="M200,250 Q260,230 300,300 M225,285 Q290,265 330,335 M250,325 Q315,305 355,375 M270,365 Q335,345 370,410 M250,510 Q280,540 330,545" style="stroke-width:5.06"/>
<ellipse cx="400" cy="470" rx="88" ry="95" transform="rotate(-20 400 470)" style="stroke-width:5.52"/>
<ellipse cx="412" cy="485" rx="48" ry="55" transform="rotate(-20 412 485)" style="stroke-width:5.06"/>
<path d="M495,790 Q470,640 600,560 Q680,510 760,545 M595,745 Q600,650 720,600 Q800,570 870,610" style="stroke-width:5.29"/>
<path d="M760,545 L970,700 Q900,820 800,850 Q700,870 650,812 M870,610 Q1000,690 1060,800 L1090,900 M595,950 Q640,1080 760,1110 L860,1130 Q920,1130 960,1100 M630,920 Q700,1060 800,1090 M700,860 Q780,940 800,1080" style="stroke-width:5.06"/>
<path d="M870,880 Q920,830 1000,840 M890,920 Q945,870 1030,885 M915,960 Q975,915 1055,930 M940,1000 Q1000,955 1075,975 M960,1040 Q1020,1000 1090,1020 M860,850 L960,1100" style="stroke-width:5.06"/>
<ellipse cx="1140" cy="1090" rx="72" ry="80" transform="rotate(-20 1140 1090)" style="stroke-width:5.52"/>
<ellipse cx="1148" cy="1098" rx="42" ry="48" transform="rotate(-20 1148 1098)" style="stroke-width:5.06"/>
<path d="M1030,520 L1235,440 L1270,520 L1060,650 Z M1150,640 L1370,550 L1395,690 L1190,780 Z M1235,440 L1390,410 L1410,470 L1270,520 M1370,550 L1480,520 L1500,580 L1395,690" style="stroke-width:6.9"/>
<path d="M1120,500 L1150,600 M1240,610 L1265,730" style="stroke-width:9.2"/>
</g>

<!-- p19.svg -->
<g class="p" style="stroke-width:3.91" transform="translate(1460 1600) scale(0.29886)">
<path d="M365,290 L370,245 L180,140 Q150,142 150,170 L130,610 L460,860 L445,955 Q425,975 415,940 M445,955 L395,940 L305,1205 L430,1305 L510,1040 Q540,1000 580,1025 L840,1220 Q880,1250 910,1225"/>
<path d="M940,1160 L950,900 Q960,860 1010,865 L1250,1010 L1310,850"/>
<path d="M325,325 L430,265 L598,358 L605,392 L500,432 Z M615,388 L1250,775 L1365,720 L1415,750 L1370,850 L1330,840 L1265,800"/>
<path d="M1250,775 V1010" style="stroke-width:2.2"/>
<path d="M185,205 L250,245 V375 L190,335 Z"/>
<path d="M370,375 L600,570 L575,790 L340,590 Z"/>
<ellipse cx="465" cy="347" rx="28" ry="18" style="stroke-width:4.83"/>
<ellipse cx="1340" cy="785" rx="27" ry="17" style="stroke-width:4.83"/>
<ellipse cx="195" cy="590" rx="13" ry="19" transform="rotate(-20 195 590)" style="stroke-width:4.6"/>
<ellipse cx="318" cy="690" rx="13" ry="19" transform="rotate(-20 318 690)" style="stroke-width:4.6"/>
<ellipse cx="435" cy="1035" rx="13" ry="19" transform="rotate(-20 435 1035)" style="stroke-width:4.6"/>
<ellipse cx="405" cy="1135" rx="13" ry="19" transform="rotate(-20 405 1135)" style="stroke-width:4.6"/>
<ellipse cx="1165" cy="885" rx="19" ry="29" transform="rotate(-20 1165 885)" style="stroke-width:4.6"/>
<ellipse cx="810" cy="1045" rx="52" ry="85" transform="rotate(-22 810 1045)"/>
<circle class="f" cx="935" cy="1195" r="14"/>
<path style="stroke-width:2.2" d="M948,1205 L1100,1320"/>
</g>

<!-- p23.svg -->
<g class="p" style="stroke-width:3.68" transform="translate(1240 1700) scale(0.27496)">
<!-- 24 -->
<path style="stroke-width:2.2" d="M182,510 L188,700"/>
<circle class="f" cx="190" cy="715" r="14"/>
<path d="M150,740 L200,770 L300,848 L270,965 L225,975 L105,875 Z M300,848 L355,828 L320,920 L275,965 M135,785 L285,895" style="stroke-width:4.37"/>
<ellipse cx="172" cy="828" rx="16" ry="20" style="stroke-width:5.17"/>
<ellipse cx="243" cy="880" rx="16" ry="20" style="stroke-width:5.17"/>
<!-- 23 -->
<path style="stroke-width:2.2" d="M535,300 L620,450"/>
<circle class="f" cx="625" cy="465" r="14"/>
<path d="M612,498 L585,600 L745,715 L760,590 Z M612,498 L655,430 L700,425 L800,500 L760,590 M760,590 L835,555 L800,690 L745,715" style="stroke-width:4.37"/>
<path d="M690,455 L790,515 L830,470 Q868,490 850,530 L835,555 M700,480 L780,530 M735,560 L790,545 L785,600" style="stroke-width:3.91"/>
<ellipse cx="640" cy="555" rx="15" ry="20" style="stroke-width:5.17"/>
<ellipse cx="723" cy="612" rx="15" ry="20" style="stroke-width:5.17"/>
<path d="M635,640 C600,720 500,760 372,772 Q355,785 372,798 C520,790 620,740 665,660 M690,690 C670,760 560,820 400,825 M715,705 C690,780 580,840 410,845" style="stroke-width:3.22"/>
<path d="M385,800 C380,950 400,1150 425,1310 M400,805 C400,950 420,1150 450,1295 M420,880 C420,1000 440,1180 460,1290 M410,832 C470,832 500,850 510,862 M420,920 C480,930 520,960 540,985" style="stroke-width:2.99"/>
<path d="M490,860 L520,850 L600,920 L575,945 Z M530,990 L560,975 L635,1030 L610,1055 Z" style="stroke-width:5.17"/>
<!-- 20 -->
<path d="M680,970 L790,945 L850,985 L880,1080 L870,1160 L790,1215 L730,1210 L665,1150 L690,1060 Z M790,945 L800,1050 L760,1170 L730,1210 M800,1050 L880,1080 M690,1060 L760,1030" style="stroke-width:4.14"/>
<path d="M650,1060 L685,1075 M690,985 L715,1002 M655,1075 L665,1100" style="stroke-width:4.6"/>
<ellipse cx="745" cy="1045" rx="15" ry="19" style="stroke-width:5.17"/>
<ellipse cx="705" cy="1150" rx="15" ry="19" style="stroke-width:5.17"/>
<path d="M850,1180 Q838,1230 855,1262 M880,1172 Q900,1190 910,1215" style="stroke-width:3.22"/>
<circle class="f" cx="900" cy="1255" r="14"/>
<path style="stroke-width:2.2" d="M908,1270 L1040,1420"/>
<!-- 22 -->
<path d="M495,1160 L610,1102" style="stroke-width:5.75"/>
<circle cx="495" cy="1162" r="13" style="stroke-width:3.91"/>
<path d="M575,1218 L612,1205" style="stroke-width:6.9"/>
<ellipse cx="497" cy="1267" rx="11" ry="16" style="stroke-width:3.91"/>
<circle class="f" cx="550" cy="1255" r="14"/>
<path style="stroke-width:2.2" d="M560,1268 L690,1415"/>
<!-- 21 -->
<path d="M1075,1030 L1110,890 L990,805 L930,995 L1020,1055"/>
<ellipse cx="1035" cy="885" rx="13" ry="19" transform="rotate(-15 1035 885)" style="stroke-width:4.6"/>
<ellipse cx="1000" cy="990" rx="13" ry="19" transform="rotate(-15 1000 990)" style="stroke-width:4.6"/>
<circle class="f" cx="1050" cy="1070" r="14"/>
<path style="stroke-width:2.2" d="M1062,1080 L1260,1225"/>
</g>

<!-- p27.svg -->
<g class="p" style="stroke-width:4.14" transform="translate(860 2160) scale(0.41841)">
<path d="M335,165 V70 Q335,-5 400,-20 Q450,-25 490,5 L640,95 Q700,135 760,138 L1000,137 Q1060,135 1110,110 L1330,10 Q1450,-25 1500,80 Q1550,200 1480,300 L1235,470"/>
<path d="M405,270 V90 Q405,40 445,55 L640,170 Q700,208 760,210 H1020 Q1070,208 1110,190 L1300,105 Q1400,70 1440,150 Q1470,230 1410,300 L1205,415"/>
<path d="M335,210 V290 Q370,312 405,290"/>
<path d="M330,270 L280,315 L285,395 L330,435 H410 L450,400 L455,310 L410,265 M285,320 L330,360 H415 L455,315 M330,360 V435 M415,360 V435"/>
<path d="M1045,475 L1065,430 L1135,395 L1195,420 L1230,490 L1215,550 L1145,585 L1085,565 Z M1195,420 L1160,445 M1230,490 L1175,520 L1145,585"/>
<ellipse cx="1105" cy="500" rx="44" ry="62" transform="rotate(-20 1105 500)"/>
<ellipse cx="1105" cy="502" rx="30" ry="46" transform="rotate(-20 1105 502)" style="stroke-width:2.4"/>
<path style="stroke-width:2.2" d="M1085,470 Q1110,500 1135,500 M1080,500 Q1105,530 1130,530"/>
<circle class="f" cx="330" cy="180" r="10"/>
<path style="stroke-width:2.2" d="M190,205 L320,183"/>
</g>

<!-- p28.svg -->
<g class="p" style="stroke-width:3.91" transform="translate(1540 2140) scale(0.33473)">
<path d="M685,545 V705 L625,715 Q600,725 598,760 L585,1165 L690,1235 L695,1170 L730,1195 L800,1210 L805,1120 L770,1085 V480 L720,495"/>
<path d="M770,480 L830,460 L820,800 L800,830 L795,1090 M787,490 L790,1085" style="stroke-width:3.22"/>
<ellipse cx="682" cy="820" rx="30" ry="42" transform="rotate(-15 682 820)" style="stroke-width:4.6"/>
<path d="M820,800 L1000,565 L1040,545 L1110,460 Q1190,435 1240,560 L1245,770 L1180,840 L1150,830"/>
<path d="M1040,550 V750 L950,795 Q940,812 965,820 M1040,750 L1185,838 M965,815 L975,985 L1090,1045 L1098,1000 L1225,1075 Q1245,1070 1245,1040 L1240,975 L985,825"/>
<ellipse cx="1160" cy="565" rx="33" ry="45" transform="rotate(-15 1160 565)" style="stroke-width:4.6"/>
<ellipse cx="1195" cy="1005" rx="17" ry="24" transform="rotate(-15 1195 1005)" style="stroke-width:4.6"/>
<path d="M700,1048 L790,1088 L970,985 M695,1062 L785,1102 L975,995" style="stroke-width:3.45"/>
<ellipse cx="765" cy="1140" rx="26" ry="34" transform="rotate(-15 765 1140)" style="stroke-width:5.17"/>
<ellipse cx="767" cy="1142" rx="10" ry="15" style="stroke-width:3.45"/>
<circle class="f" cx="688" cy="515" r="12"/>
<path style="stroke-width:2.2" d="M585,395 L680,505"/>
<!-- 29 -->
<ellipse cx="515" cy="900" rx="20" ry="26" style="stroke-width:4.6"/>
<path d="M515,868 V850 M535,880 L552,868 M538,905 L560,910 M530,925 L542,945 M510,930 L505,952 M495,915 L478,922 M495,888 L480,878" style="stroke-width:5.17"/>
<circle class="f" cx="485" cy="848" r="12"/>
<path style="stroke-width:2.2" d="M345,625 L480,840"/>
<!-- 30 -->
<ellipse cx="400" cy="962" rx="50" ry="62" transform="rotate(-20 400 962)" style="stroke-width:5.17"/>
<ellipse cx="388" cy="968" rx="28" ry="38" transform="rotate(-20 388 968)" style="stroke-width:4.6"/>
<path d="M350,935 Q335,990 365,1025 M375,900 L420,892 L455,935 L450,990" style="stroke-width:3.91"/>
<circle class="f" cx="332" cy="925" r="12"/>
<path style="stroke-width:2.2" d="M195,800 L325,918"/>
<!-- 31 -->
<path style="stroke-width:2.2" d="M1265,225 L1340,425"/>
</g>
<g class="p" style="stroke-width:4.37" transform="translate(1940 2230) scale(0.083682)">
<path d="M820,470 Q850,380 1000,320 Q1130,310 1220,420 Q1290,560 1260,700 Q1200,790 1080,810 L1060,800 M880,470 Q960,430 1050,490 Q1110,580 1080,700 L1060,760 M1000,320 L1050,395 L1130,440 M1050,395 Q1000,400 920,440 M1130,440 Q1190,560 1170,700 L1260,700 M1170,700 L1130,770"/>
<path d="M700,600 L830,540 L820,470 M620,920 L1050,690"/>
<path d="M230,880 Q300,830 430,790 L480,700 L580,790 L600,900 L560,990 L340,1080 Q250,1070 220,960 Z M340,850 Q400,900 380,1040 M410,815 Q470,870 450,1010 M480,790 Q530,840 520,975"/>
<ellipse cx="300" cy="965" rx="60" ry="95" transform="rotate(-30 300 965)"/>
<circle class="f" cx="595" cy="655" r="58"/>
</g>

<!-- p33.svg -->
<g class="p" style="stroke-width:4.14" transform="translate(860 2640) scale(0.29886)">
<!-- 33 -->
<path d="M255,170 L340,90 L385,85 L460,185 L450,205 L375,275 L340,280 Z M275,150 L355,245 M320,110 L395,205 M355,245 L372,275 M355,245 L450,190"/>
<path d="M375,268 L555,510 Q590,560 555,600 L365,775 M320,840 Q250,930 275,1010 Q300,1060 360,1045 L530,965"/>
<path d="M420,225 L610,480 Q650,550 600,610 L420,790 Q310,900 330,980 Q340,1000 370,990 L530,900"/>
<path d="M490,860 L575,810 L625,820 L660,890 L655,950 L575,990 L545,985 L500,900 Z M545,985 V920 L500,870 M545,920 L655,890"/>
<circle class="f" cx="345" cy="805" r="13"/>
<path style="stroke-width:2.2" d="M170,715 L335,795"/>
<!-- 12 valve moved -->
<path style="stroke-width:2.2" d="M1225,692 L1115,890"/>
<!-- 25 nuts -->
<path d="M1460,830 L1495,770 L1555,745 L1600,765 L1610,835 L1575,905 L1515,930 L1475,900 Z M1535,870 L1575,800 L1640,790 L1668,830 L1660,900 L1625,950 L1565,962 L1535,930 Z" style="stroke-width:4.83"/>
<ellipse cx="1535" cy="838" rx="38" ry="62" transform="rotate(28 1535 838)" style="stroke-width:4.6"/>
<ellipse cx="1602" cy="878" rx="36" ry="58" transform="rotate(28 1602 878)" style="stroke-width:4.6"/>
<circle class="f" cx="1510" cy="905" r="14"/>
<path style="stroke-width:2.2" d="M1500,920 L1390,1120"/>
</g>
<g class="p" style="stroke-width:4.37" transform="translate(1080 2680) scale(0.14345)">
<path d="M85,300 Q100,200 210,145 L410,130 L780,440 M100,325 Q120,235 215,172 M85,300 Q90,400 150,480 L620,900 M350,640 Q340,460 560,340 L640,330 M385,662 Q380,500 590,372"/>
<path d="M620,900 Q560,760 700,620 L770,580 M650,885 Q610,790 720,662"/>
<ellipse cx="965" cy="445" rx="178" ry="108"/>
<ellipse cx="975" cy="440" rx="112" ry="64"/>
<ellipse cx="980" cy="445" rx="78" ry="40" style="stroke-width:2.99"/>
<path d="M787,460 L770,650 Q800,760 960,775 Q1080,760 1100,700 L1142,470"/>
<path d="M1140,600 Q1200,500 1330,490 Q1420,520 1440,620 Q1430,720 1370,770 L1240,830 M1140,600 Q1180,700 1230,830"/>
<path d="M1180,565 Q1250,640 1270,815 M1220,535 Q1290,620 1305,800 M1260,510 Q1330,600 1340,785 M1300,495 Q1370,580 1372,765 M1340,495 Q1400,570 1405,735" style="stroke-width:3.45"/>
<path d="M720,880 Q760,820 870,810 Q940,870 960,1000 L950,1090 L850,1130 L720,1160 Q600,1130 585,1050 Q600,990 700,960"/>
<path d="M700,960 Q760,1010 770,1150 M740,940 Q800,990 812,1140 M780,920 Q840,975 852,1128 M820,905 Q880,960 890,1112 M860,890 Q915,950 925,1095" style="stroke-width:3.45"/>
<ellipse cx="640" cy="1080" rx="52" ry="78" transform="rotate(-20 640 1080)"/>
<ellipse cx="632" cy="1086" rx="18" ry="32" transform="rotate(-20 632 1086)" style="stroke-width:3.45"/>
<path d="M980,1000 Q1020,900 1150,860 L1230,920 L1220,990 L1290,1010 L1330,1080 M1100,770 L1230,920"/>
<path d="M1000,1030 Q1040,930 1170,890 M1025,1055 Q1065,960 1190,920 M1050,1080 Q1090,990 1205,950 M1080,1100 Q1115,1020 1215,985 M1105,1125 Q1135,1050 1225,1015" style="stroke-width:3.45"/>
<path d="M1150,1090 L1400,1340 Q1500,1380 1540,1290 Q1530,1230 1480,1200 L1300,1010 M1105,1135 Q1090,1190 1150,1200 L1190,1150"/>
<circle class="f" cx="1030" cy="1120" r="38"/>
</g>

<!-- p34.svg -->
<g class="p" style="stroke-width:3.91" transform="translate(400 1440) scale(0.23909)">
<path style="stroke-width:2.2" d="M190,130 L425,260"/>
<circle class="f" cx="440" cy="272" r="15"/>
<path d="M485,255 L560,212 L935,430 V800 L1175,945 L1540,1155 L1542,1587 L1165,1792 L1160,1862 L1140,1852 L165,1258 L160,1195 L380,1070 L515,1155 L640,1095"/>
<path d="M480,300 L810,500 L935,440"/>
<path d="M560,350 L548,985 L640,1045 L1140,1350"/>
<path d="M548,715 L490,745 L410,900 L548,978"/>
<path d="M170,1210 L1150,1782 L1165,1792"/>
<path style="stroke-width:5.75" d="M940,805 L1172,945"/>
<path d="M1150,950 V1330 M1190,960 V1300 L1270,1352 V1005 M1290,1012 V1312 L1495,1190"/>
<path d="M1130,1325 L1190,1300 L1195,1330 L1140,1362 Z"/>
<path style="stroke-width:2" d="M1140,1357 L1510,1577 M1535,1160 L1290,1012"/>
<path d="M1430,1240 Q1475,1185 1505,1205 Q1520,1260 1470,1290 Z" style="stroke-width:3.22"/>
<ellipse cx="590" cy="300" rx="28" ry="17" style="stroke-width:4.83"/>
<ellipse cx="768" cy="408" rx="28" ry="17" style="stroke-width:4.83"/>
<ellipse cx="652" cy="855" rx="24" ry="37" transform="rotate(-20 652 855)" style="stroke-width:4.83"/>
<ellipse cx="828" cy="950" rx="24" ry="37" transform="rotate(-20 828 950)" style="stroke-width:4.83"/>
<ellipse cx="1075" cy="1105" rx="20" ry="30" transform="rotate(-20 1075 1105)" style="stroke-width:4.83"/>
<ellipse cx="1225" cy="1090" rx="20" ry="30" transform="rotate(-20 1225 1090)" style="stroke-width:4.83"/>
<ellipse cx="1220" cy="1255" rx="20" ry="30" transform="rotate(-20 1220 1255)" style="stroke-width:4.83"/>
<ellipse cx="375" cy="1155" rx="30" ry="18" style="stroke-width:4.83"/>
<ellipse cx="1210" cy="1655" rx="30" ry="18" style="stroke-width:4.83"/>
<rect x="632" y="972" width="390" height="46" rx="23" transform="rotate(31.4 655 995)"/>
</g>

<!-- p35.svg -->
<g class="p" style="stroke-width:4.14" transform="translate(30 1950) scale(0.20323)">
<path d="M720,1010 L440,870 L115,690 V285 L450,105 L640,215 L690,225 L750,190 L1340,540 L1435,700 L1440,860 L1535,1040 L1530,1075 L1290,1205 L1160,1210 L1090,1160 L830,1050"/>
<path d="M330,195 L520,305 L715,270 M520,305 V395 L410,460 L405,560 L215,440 L210,335 L335,275 L260,240 L150,290 L210,335"/>
<path d="M215,440 L300,300" style="stroke-width:2.99"/>
<path d="M690,225 L745,262 L800,225" style="stroke-width:3.22"/>
<path d="M410,460 L720,275"/>
<path d="M430,480 L440,870 M430,480 L520,510 L1100,800 L1110,880 L1150,900 Q1185,960 1135,1020 L1100,1135"/>
<path d="M455,535 L1075,815 L1085,895 L1125,915 Q1155,960 1110,1020 L1085,1120" style="stroke-width:2.99"/>
<path d="M455,620 L560,585 M450,690 L620,650 M450,745 L640,700 L680,735 L560,790 L450,802 M450,850 L640,748 M620,770 L1095,1060" style="stroke-width:3.45"/>
<path d="M1050,685 L1160,745 M1070,670 L1200,600 L1290,545 M1090,665 L1195,760 L1200,850 L1300,790 L1410,730 M1160,622 L1270,790 M1230,582 L1350,750 M1290,548 L1410,700"/>
<path d="M1400,880 L1500,1050 L1290,1160 L1150,1130 M1400,880 L1395,985 L1140,1120" style="stroke-width:3.45"/>
<ellipse cx="1300" cy="1090" rx="38" ry="24"/>
<path d="M460,900 L715,1030 M835,1062 L1085,1160" style="stroke-width:2.99"/>
<circle class="f" cx="775" cy="1020" r="18"/>
</g>
<g class="p" style="stroke-width:3.45" transform="translate(0 1760) scale(0.33473)">
<path style="stroke-width:2.2" d="M560,1195 L425,1385"/>
<!-- 37 -->
<path style="stroke-width:2.2" d="M255,190 L330,315"/>
<circle class="f" cx="335" cy="325" r="11"/>
<path d="M445,262 L375,295 M440,265 L420,305 L355,335"/>
<path d="M350,335 C270,400 215,500 208,590 M335,345 C285,400 235,500 228,590" style="stroke-width:2.99"/>
<rect x="190" y="595" width="44" height="70" style="stroke-width:4.6"/>
<!-- 36 -->
<path d="M1020,885 C1015,820 1040,795 1075,795 C1150,800 1180,880 1230,955 M1080,850 C1085,770 1110,760 1140,765 C1200,775 1260,880 1310,935 M1035,885 C1030,830 1050,810 1080,812 C1140,815 1170,890 1215,945 M1095,850 C1100,790 1115,778 1140,780 C1190,790 1250,880 1300,930" style="stroke-width:2.2"/>
<rect x="1005" y="915" width="42" height="75" style="stroke-width:4.6"/>
<rect x="1078" y="870" width="42" height="75" style="stroke-width:4.6"/>
<path d="M1020,915 V885 H1035 V915 M1085,870 V845 H1100 V870" style="stroke-width:3.45"/>
<circle class="f" cx="1240" cy="935" r="11"/>
<path style="stroke-width:2.2" d="M1250,950 L1390,1105"/>
</g>

<!-- p38.svg -->
<g class="p" style="stroke-width:3.91" transform="translate(880 1700) scale(0.25105)">
<path d="M450,265 L690,165 L700,185 L690,410"/>
<path d="M450,265 L445,515 L460,525 L455,915 L490,1000 M515,1070 L610,1355 L840,1485 L860,1480 V810 L875,795 L1235,905 L1330,860 L1435,945 L1440,680 L1335,620 L1250,660 L900,530 C800,500 740,440 690,410 L470,275"/>
<path d="M875,540 V780 M1240,670 V895 M1330,625 V860" style="stroke-width:2.99"/>
<path d="M700,250 L740,180 L745,280 L700,330" style="stroke-width:3.22"/>
<ellipse cx="1372" cy="858" rx="26" ry="38" transform="rotate(-15 1372 858)" style="stroke-width:4.6"/>
<circle class="f" cx="495" cy="1025" r="15"/>
<path style="stroke-width:2.2" d="M260,1075 L480,1035"/>
<path d="M1300,1060 L1425,995 M1385,1115 L1515,1058" style="stroke-width:5.75"/>
<circle cx="1300" cy="1060" r="17" style="stroke-width:3.91"/>
<circle cx="1385" cy="1115" r="17" style="stroke-width:3.91"/>
</g>
<use href="#scr" transform="translate(1171 1947) rotate(-25) scale(0.72 0.85)"/>

<!-- p40.svg -->
<g class="p" transform="translate(1340 60) scale(0.35864)">
<path d="M785,305 L490,128 L150,312"/>
<path d="M835,340 L1497,740 V1020"/>
<path d="M145,348 L1120,935 L1485,748" />
<path d="M155,310 L118,327 V605 L188,570 V368"/>
<path d="M150,312 V350"/>
<path d="M180,312 L252,352 Q265,360 265,378 V400"/>
<path d="M995,862 V818 Q995,806 1010,813 L1092,860 Q1105,867 1105,882 V915"/>
<path d="M1120,935 V1215 L1205,1170 V895"/>
<path d="M1385,800 V1070 L1497,1135 L1597,1078 L1500,1020 L1390,1068"/>
<ellipse cx="1487" cy="1075" rx="32" ry="20"/>
<circle class="f" cx="815" cy="323" r="11"/>
<path style="stroke-width:2.2" d="M832,308 L962,195"/>
</g>
<g class="p" transform="translate(1340 60) scale(0.35864)">
<circle cx="1520" cy="455" r="34" style="stroke-width:6.32"/>
<path d="M1490,458 H1550 M1520,435 V475"/>
<path style="stroke-width:5.06" d="M1497,485 L1505,530 L1525,552 L1540,485 M1500,500 L1538,505 M1503,518 L1535,523 M1508,535 L1530,538"/>
</g>

<!-- p50_tray.svg -->
<g class="p" style="stroke-width:3.45">
<path d="M 915.0,1100.3 H 877.9 V 1173.2 L 924.6,1200.7 V 1172.1 M 915.0,1100.3 L 925.8,1109.9 V 1120.6"/>
<ellipse cx="903.5" cy="1131.4" rx="5.3" ry="7.9" transform="rotate(-25 903.5 1131.4)"/>
<rect x="919.8" y="1120.6" width="39.5" height="12.0" rx="6.0" transform="rotate(90.00 925.8 1126.6)"/>
<path d="M925.8,1109.9 L1535.7,935.6"/>
<path d="M 1535.7,935.6 Q 1546.2,933.5 1546.2,943.9 V 995.4"/>
<path d="M926.9,1173.2 L1546.2,995.4"/>
<path style="stroke-width:2.4" d="M989.1,1210.3 L1546.2,997.1"/>
<path d="M 926.9,1173.2 L 985.5,1209.1"/>
<path d="M 984.3,1199.5 V 1240.2 L 1078.8,1343.0"/>
<path d="M 984.3,1199.5 Q 987.9,1191.2 992.7,1199.5 C 1003.5,1213.9 1025.0,1225.8 1025.0,1242.6 V 1271.3 L 1036.9,1286.8 V 1258.1 L 1045.3,1254.5 L 1083.6,1301.2 V 1338.2"/>
<path d="M 1022.6,1184.0 L 1125.4,1129.0 Q 1137.3,1125.4 1146.9,1132.6 L 1166.0,1146.9 L 1154.1,1168.5"/>
<path d="M 1022.6,1184.0 L 1080.0,1216.3 M 1035.7,1192.4 L 1144.5,1143.4 L 1132.6,1158.9 L 1117.0,1192.4 L 1080.0,1216.3"/>
<path d="M1082.7,1344.6 L1553.3,1633.1 L1758.4,1706.8"/>
<path d="M1087.5,1299.2 L1553.3,1587 V1630"/>
<path d="M 1553.3,1587.0 L 1611.4,1604.0 Q 1624.1,1607.6 1625.8,1619.5 V 1649.4 L 1647.3,1656.6 V 1626.7 Q 1648.0,1620.3 1655.6,1621.9 L 1748.9,1655.4 Q 1760.8,1659.7 1762.0,1672.1 V 1703.2 L 1758.4,1706.8 L 1784.7,1694.9 L 1881.6,1753.4"/>
<path d="M1082.7,1217.9 L1213,1296.8 L1217.8,1301.6 V1311.2 L1222.6,1316 L1299.1,1363.8 L1317,1362.6 L1806.3,1657.3"/>
<path d="M 1806.3,1657.3 L 1894.7,1677.4"/>
<path style="stroke-width:2" d="M1117.0,1192.4 L1837.3,1639.9"/>
<path d="M1154.1,1168.5 L1858.9,1597.5"/>
<path style="stroke-width:2" d="M1164.3,1147.2 L1873.7,1573.6"/>
<path d="M 1873.7,1573.6 L 1858.9,1597.5 L 1838.5,1641.1 L 1806.3,1657.3"/>
<path d="M 1873.3,1574.1 L 1905.6,1592.8 Q 1911.6,1595.7 1915.2,1604.7 L 1951.0,1655.0 Q 1959.4,1666.9 1949.9,1675.3 L 1941.5,1680.1"/>
<path style="stroke-width:4.14" d="M1345.1,1133.8 L1911.6,1478.0"/>
<path style="stroke-width:4.14" d="M 1345.1,1133.8 L 1289.8,1183.1"/>
<path class="f" d="M 1286.8,1183.1 L 1298.7,1177.1 L 1297.3,1187.6 Z"/>
<path style="stroke-width:2" d="M1295.8,1185.2 L1862.6,1530.6"/>
<path d="M 1911.6,1478.0 L 1862.6,1530.6 Q 1865.0,1538.3 1872.6,1536.6 L 1935.5,1511.5 L 1903.2,1491.2"/>
<ellipse class="f" cx="1876.9" cy="1454.6" rx="4.5" ry="3.2" transform="rotate(31 1876.9 1454.6)"/>
<ellipse class="f" cx="1478.1" cy="1211.5" rx="4.5" ry="3.2" transform="rotate(31 1478.1 1211.5)"/>
<rect x="1156.3" y="1243.7" width="77.3" height="12.0" rx="6.0" transform="rotate(28.44 1162.3 1249.7)"/>
<rect x="1471.4" y="1439.0" width="183.8" height="11.5" rx="5.8" transform="rotate(29.05 1477.2 1444.8)"/>
<rect x="1642.9" y="1545.4" width="185.4" height="12.0" rx="6.0" transform="rotate(28.40 1648.9 1551.4)"/>
<rect x="1632.1" y="1089.9" width="481.7" height="21.0" rx="10.5" transform="rotate(29.91 1642.6 1100.4)"/>
<path style="stroke-width:4.14" d="M1547.8,953.6 L2208.8,1357.4"/>
<path style="stroke-width:2" d="M1545.4,994.7 L2180.7,1381.2"/>
<path d="M 2208.8,1357.4 L 2220.7,1346.6 L 2225.7,1349.8 V 1410.4"/>
<path d="M2208.8,1358.5 L2001.7,1568.9"/>
<path d="M 2001.7,1568.9 L 2000.1,1631.0 L 1958.2,1674.1"/>
<path d="M2225.7,1410.4 L1953.4,1680.1 L1924.9,1712.7"/>
<path d="M 1956.5,1671.8 L 1930.5,1699.7"/>
<path d="M 1885.9,1692.2 L 1926.8,1645.8 V 1709.0 M 1885.9,1692.2 L 1882.2,1775.9 L 1935.0,1807.5 L 1936.1,1736.8 L 1902.6,1699.7 L 1885.9,1692.2"/>
<ellipse cx="1908.9" cy="1743.2" rx="5.2" ry="8.2" transform="rotate(-15 1908.9 1743.2)"/>
<ellipse style="stroke-width:2.99" cx="968.8" cy="1175.2" rx="6.5" ry="4.2"/>
<ellipse style="stroke-width:2.99" cx="979.5" cy="1194.8" rx="6.5" ry="4.2"/>
<ellipse style="stroke-width:2.99" cx="1031.0" cy="1209.1" rx="6.5" ry="4.2"/>
<ellipse style="stroke-width:2.99" cx="1059.6" cy="1252.6" rx="6.5" ry="4.2"/>
<ellipse style="stroke-width:2.99" cx="1097.9" cy="1277.3" rx="6.5" ry="4.2"/>
<ellipse style="stroke-width:2.99" cx="1168.4" cy="1319.1" rx="6.5" ry="4.2"/>
<ellipse style="stroke-width:2.99" cx="1207.9" cy="1343.0" rx="6.5" ry="4.2"/>
<ellipse style="stroke-width:2.99" cx="1180.4" cy="1126.6" rx="6.5" ry="4.2"/>
<ellipse style="stroke-width:2.99" cx="1244.9" cy="1143.4" rx="6.5" ry="4.2"/>
<ellipse style="stroke-width:2.99" cx="1323.0" cy="1345.4" rx="6.5" ry="4.2"/>
<ellipse style="stroke-width:2.99" cx="1387.1" cy="1385.3" rx="6.5" ry="4.2"/>
<ellipse style="stroke-width:2.99" cx="1275.7" cy="1148.1" rx="6.5" ry="4.2"/>
<ellipse style="stroke-width:2.99" cx="1578.2" cy="1089.0" rx="6.5" ry="4.2"/>
<ellipse style="stroke-width:2.99" cx="2064.3" cy="1378.2" rx="6.5" ry="4.2"/>
<ellipse style="stroke-width:2.99" cx="1618.2" cy="1578.7" rx="6.5" ry="4.2"/>
<ellipse style="stroke-width:2.99" cx="1777.2" cy="1662.3" rx="6.5" ry="4.2"/>
<ellipse style="stroke-width:2.99" cx="1814.8" cy="1700.0" rx="6.5" ry="4.2"/>
<ellipse style="stroke-width:2.99" cx="1870.8" cy="1724.3" rx="6.5" ry="4.2"/>
<ellipse style="stroke-width:2.99" cx="1922.2" cy="1582.5" rx="6.5" ry="4.2"/>
</g>

<!-- p99_labels.svg -->
<g id="labels">
<text x="428.0" y="302.4">1</text>
<text x="948.9" y="104.3">2</text>
<text x="1704.0" y="119.2">40</text>
<text x="979.7" y="443.0">4</text>
<text x="2086.4" y="538.6">3</text>
<text x="2050.7" y="741.5">5</text>
<text x="2118.2" y="872.6">7</text>
<text x="2278.4" y="978.9">8</text>
<text x="2067.1" y="1184.6">6</text>
<text x="428.0" y="1155.5">156</text>
<text x="879.0" y="1352.0">9</text>
<text x="754.9" y="1437.0">10</text>
<text x="410.8" y="1473.5">34</text>
<text x="321.0" y="1666.6">11</text>
<text x="67.0" y="1810.0">37</text>
<text x="122.0" y="2266.0">35</text>
<text x="483.7" y="2176.7">36</text>
<text x="535.6" y="2044.5">39</text>
<text x="908.9" y="1992.5">38</text>
<text x="1366.5" y="1771.5">23</text>
<text x="1286.7" y="1827.9">24</text>
<text x="1618.0" y="2068.4">21</text>
<text x="1561.7" y="2123.4">20</text>
<text x="1453.0" y="2125.6">22</text>
<text x="1818.6" y="2042.3">19</text>
<text x="901.8" y="2262.5">27</text>
<text x="849.3" y="2648.7">18</text>
<text x="874.0" y="2853.7">33</text>
<text x="1164.8" y="2957.4">12</text>
<text x="1260.5" y="3019.6">25</text>
<text x="1319.5" y="2725.0">16</text>
<text x="1536.7" y="2494.9">13</text>
<text x="1375.8" y="2527.9">14</text>
<text x="1421.2" y="2592.5">15</text>
<text x="1394.0" y="3009.4">26</text>
<text x="1503.5" y="2991.5">17</text>
<text x="1851.3" y="2891.0">32</text>
<text x="1946.7" y="2200.3">31</text>
<text x="1708.4" y="2265.5">28</text>
<text x="1638.7" y="2334.1">29</text>
<text x="1579.5" y="2393.4">30</text>
</g>
<g class="p" style="stroke-width:2">
<path d="M823,0 L612.4,240 L516.3,348.3 M503.7,363.4 L455.3,420 L303.3,600 L0,951.2"/>
<path style="stroke-width:2.2" d="M447.4,306.3 L503.4,350.5"/>
<circle class="f" cx="506.5" cy="353.3" r="5.2"/>
</g>
<ellipse id="blob" cx="87" cy="2162" rx="33" ry="27" fill="#ffffff" opacity="0.45" transform="rotate(20 87 2162)"/>

</svg>
</body></html>
